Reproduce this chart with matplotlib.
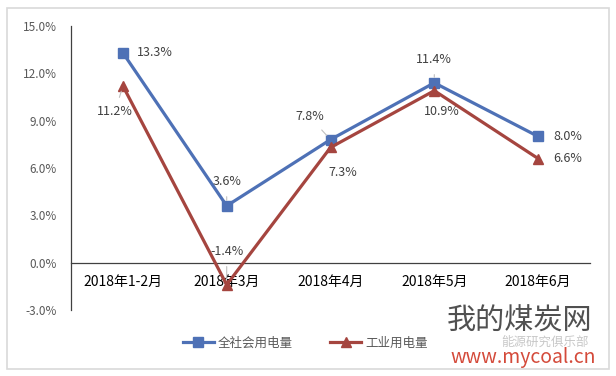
import matplotlib
matplotlib.use("Agg")
import matplotlib.pyplot as plt
from matplotlib.patches import Rectangle

plt.rcParams['font.family'] = ['Noto Sans CJK SC', 'DejaVu Sans']

categories = ["2018年1-2月", "2018年3月", "2018年4月", "2018年5月", "2018年6月"]
total_power = [13.3, 3.6, 7.8, 11.4, 8.0]
industry_power = [11.2, -1.4, 7.3, 10.9, 6.6]
series_names = ["全社会用电量", "工业用电量"]
yticks = [-3, 0, 3, 6, 9, 12, 15]

blue = "#4e71b6"
red = "#a5453f"
gray_txt = "#595959"

fig = plt.figure(figsize=(6.16, 3.76), dpi=100)
ax = fig.add_axes([71/616, 1-310/376, (590-71)/616, (310-26)/376])

x = list(range(len(categories)))
ax.plot(x, total_power, color=blue, lw=2.3, marker='s', ms=7, label=series_names[0], zorder=3)
ax.plot(x, industry_power, color=red, lw=2.3, marker='^', ms=7, label=series_names[1], zorder=3)

ax.set_xlim(-0.5, len(categories)-0.5)
ax.set_ylim(-3, 15)
ax.set_yticks(yticks)
ax.set_yticklabels([f"{v:.1f}%" for v in yticks], color=gray_txt, fontsize=8.5)
ax.set_xticks(x)
ax.set_xticklabels(categories, color=gray_txt, fontsize=8.5)
ax.tick_params(axis='both', length=0)
ax.tick_params(axis='y', pad=10)
ax.tick_params(axis='x', pad=9)
for s in ['top', 'right']:
    ax.spines[s].set_visible(False)
ax.spines['bottom'].set_position(('data', 0))
ax.spines['bottom'].set_color('#404040')
ax.spines['left'].set_color('#404040')
ax.spines['bottom'].set_linewidth(0.9)
ax.spines['left'].set_linewidth(0.9)

lab_col = "#404040"
# (index, dx px, dy px, ha, leader)
blue_labels = [(0, 14, 0, 'left', False), (1, 0, 24, 'center', True),
               (2, -21, 23, 'center', True), (3, 0, 23, 'center', True),
               (4, 15, 0, 'left', False)]
red_labels = [(0, -8, -26, 'center', True), (1, 0, 33, 'center', True),
              (2, 12, -25, 'center', False), (3, 7, -21, 'center', False),
              (4, 15, 0, 'left', False)]

def add_labels(vals, specs):
    for (i, dx, dy, ha, leader) in specs:
        v = vals[i]
        kw = {}
        if leader:
            kw['arrowprops'] = dict(arrowstyle='-', color='#bfbfbf', lw=0.8, shrinkA=4, shrinkB=4)
        ax.annotate(f"{v:.1f}%", xy=(i, v), xytext=(dx, dy), textcoords='offset pixels',
                    ha=ha, va='center', fontsize=9, color=lab_col, zorder=4, **kw)

add_labels(total_power, blue_labels)
add_labels(industry_power, red_labels)

leg = fig.legend(loc='center', bbox_to_anchor=(305/616, 1-343/376), ncol=2, frameon=False,
                 fontsize=9, handlelength=2.5, columnspacing=3.0, handletextpad=0.3)
for t in leg.get_texts():
    t.set_color(gray_txt)

# outer light border
fig.patches.append(Rectangle((7/616, 1-369/376), (609-7)/616, (369-8)/376, transform=fig.transFigure,
                             fill=False, edgecolor='#d9d9d9', lw=1.2))

# watermark
fig.text(520/616, 1-322/376, "我的煤炭网", ha='center', va='center', fontsize=21, color='#505050')
fig.text(545/616, 1-342/376, "能源研究俱乐部", ha='center', va='center', fontsize=9, color='#c8c8c8')
fig.text(523/616, 1-358/376, "www.mycoal.cn", ha='center', va='center', fontsize=14, color='#d44a3a')

fig.savefig("out.png", dpi=100)
